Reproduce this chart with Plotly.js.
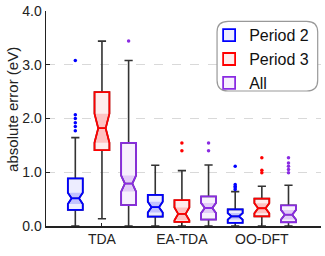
<!DOCTYPE html>
<html>
<head>
<meta charset="utf-8">
<script src="https://cdn.plot.ly/plotly-3.0.1.min.js"></script>
<style>html,body{margin:0;padding:0;background:#fff}#chart{width:325px;height:256px}</style>
</head>
<body>
<div id="chart"></div>
<script>
const categories = ['TDA', 'EA-TDA', 'OO-DFT'];
const seriesNames = ['Period 2', 'Period 3', 'All'];
const yTitle = 'absolute error (eV)';

// Period 2
const p2Q1 = [0.30, 0.175, 0.06];
const p2Median = [0.515, 0.35, 0.18];
const p2Q3 = [0.885, 0.58, 0.31];
const p2Low = [0.0, 0.0, 0.0];
const p2High = [1.645, 1.13, 0.64];
const p2Notch = [0.105, 0.10, 0.06];
const p2OutTDA = [3.08, 2.07, 2.0, 1.92, 1.85, 1.77];
const p2OutEA = [];
const p2OutOO = [1.11, 0.77, 0.74, 0.71, 0.68];

// Period 3
const p3Q1 = [1.41, 0.075, 0.18];
const p3Median = [1.82, 0.225, 0.33];
const p3Q3 = [2.49, 0.48, 0.51];
const p3Low = [0.135, 0.0, 0.0];
const p3High = [3.44, 1.03, 0.74];
const p3Notch = [0.27, 0.12, 0.095];
const p3OutTDA = [];
const p3OutEA = [1.545, 1.40];
const p3OutOO = [1.27, 1.035, 0.99];

// All
const allQ1 = [0.39, 0.12, 0.07];
const allMedian = [0.79, 0.335, 0.21];
const allQ3 = [1.545, 0.55, 0.385];
const allLow = [0.0, 0.0, 0.0];
const allHigh = [3.08, 1.135, 0.757];
const allNotch = [0.15, 0.095, 0.09];
const allOutTDA = [3.44];
const allOutEA = [1.545, 1.40];
const allOutOO = [1.27, 1.17, 1.11, 1.05, 0.99];

const colors = ['#0000ff', '#ff0000', '#8a2be2'];
const tints = ['rgba(0,0,255,0.18)', 'rgba(255,0,0,0.18)', 'rgba(138,43,226,0.18)'];
const lightFill = ['rgba(0,0,255,0.07)', 'rgba(255,0,0,0.07)', 'rgba(138,43,226,0.07)'];

const series = [
  {q1: p2Q1, med: p2Median, q3: p2Q3, lo: p2Low, hi: p2High, n: p2Notch, out: [p2OutTDA, p2OutEA, p2OutOO]},
  {q1: p3Q1, med: p3Median, q3: p3Q3, lo: p3Low, hi: p3High, n: p3Notch, out: [p3OutTDA, p3OutEA, p3OutOO]},
  {q1: allQ1, med: allMedian, q3: allQ3, lo: allLow, hi: allHigh, n: allNotch, out: [allOutTDA, allOutEA, allOutOO]}
];

const traces = [];
series.forEach((s, i) => {
  const og = 'g' + i;
  // whiskers (dark) + white box
  traces.push({
    type: 'box', x: categories, q1: s.q1, median: s.med, q3: s.q3,
    lowerfence: s.lo, upperfence: s.hi, notched: true, notchspan: s.n,
    offsetgroup: og, showlegend: false, hoverinfo: 'skip',
    line: {color: '#333333', width: 1.6}, fillcolor: '#ffffff', whiskerwidth: 0.55
  });
  // notch band
  const bq1 = s.med.map((m, k) => m - s.n[k]);
  const bq3 = s.med.map((m, k) => m + s.n[k]);
  traces.push({
    type: 'box', x: categories, q1: bq1, median: s.med, q3: bq3,
    lowerfence: bq1, upperfence: bq3, notched: true, notchspan: s.n,
    offsetgroup: og, showlegend: false, hoverinfo: 'skip',
    line: {color: 'rgba(0,0,0,0)', width: 0}, fillcolor: tints[i]
  });
  // colored outline
  traces.push({
    type: 'box', name: seriesNames[i], x: categories, q1: s.q1, median: s.med, q3: s.q3,
    lowerfence: s.q1, upperfence: s.q3, notched: true, notchspan: s.n,
    offsetgroup: og, showlegend: true,
    line: {color: colors[i], width: 1.8}, fillcolor: lightFill[i], whiskerwidth: 0
  });
});

series.forEach((s, i) => {
  const xs = [], ys = [];
  s.out.forEach((arr, k) => arr.forEach(v => { xs.push(categories[k]); ys.push(v); }));
  traces.push({
    type: 'scatter', mode: 'markers', x: xs, y: ys, offsetgroup: 'g' + i,
    showlegend: false, marker: {color: colors[i], size: 3.5}
  });
});

const r = 0.04, ry = 0.05;
const lx0 = 0.622, lx1 = 0.988, ly0 = 0.628, ly1 = 0.952;
const legendPath = `M ${lx0 + r},${ly1} L ${lx1 - r},${ly1} Q ${lx1},${ly1} ${lx1},${ly1 - ry} L ${lx1},${ly0 + ry} Q ${lx1},${ly0} ${lx1 - r},${ly0} L ${lx0 + r},${ly0} Q ${lx0},${ly0} ${lx0},${ly0 + ry} L ${lx0},${ly1 - ry} Q ${lx0},${ly1} ${lx0 + r},${ly1} Z`;

const layout = {
  width: 325, height: 256,
  margin: {l: 46, r: 4, t: 11, b: 30},
  paper_bgcolor: '#ffffff', plot_bgcolor: '#ffffff',
  font: {family: 'Liberation Sans, Arial, sans-serif', color: '#222222', size: 14},
  boxmode: 'group', boxgap: 0, boxgroupgap: 0.44,
  scattermode: 'group', scattergap: 0,
  xaxis: {
    type: 'category', categoryarray: categories, range: [-0.7, 2.74],
    showline: true, linecolor: '#222222', linewidth: 1.5,
    ticks: 'inside', ticklen: 3, tickcolor: '#222222', showgrid: false, zeroline: false,
    tickfont: {size: 14}
  },
  yaxis: {
    range: [0, 4], dtick: 1, tickformat: '.1f',
    showline: true, linecolor: '#222222', linewidth: 1.5,
    ticks: 'inside', ticklen: 4, tickcolor: '#222222',
    showgrid: true, gridcolor: '#d9d9d9', griddash: 'dash', gridwidth: 1, zeroline: false,
    tickfont: {size: 14}
  },
  annotations: [{
    text: yTitle, textangle: -90, xref: 'paper', yref: 'paper',
    x: -0.12, y: 0.54, xanchor: 'center', yanchor: 'middle', showarrow: false,
    font: {size: 15, color: '#222222'}
  }],
  showlegend: true,
  legend: {
    x: 0.975, xanchor: 'right', y: 0.966, yanchor: 'top',
    bgcolor: 'rgba(0,0,0,0)', borderwidth: 0,
    font: {size: 16, color: '#111111'}, tracegroupgap: 0, itemwidth: 30
  },
  shapes: [{
    type: 'path', xref: 'paper', yref: 'paper', path: legendPath,
    fillcolor: '#ffffff', line: {color: '#999999', width: 1.2}, layer: 'above'
  }]
};

Plotly.newPlot('chart', traces, layout, {displayModeBar: false, staticPlot: true});
</script>
</body>
</html>
